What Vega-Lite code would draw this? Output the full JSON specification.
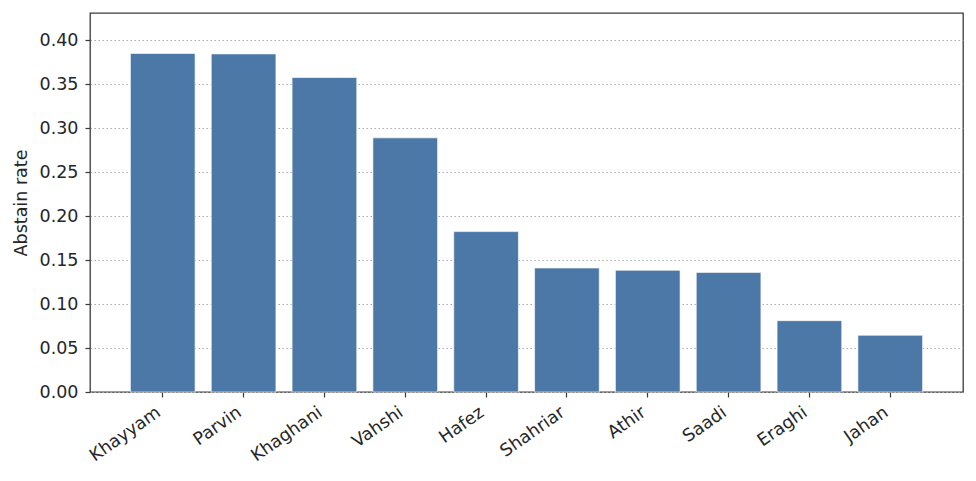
{
  "$schema": "https://vega.github.io/schema/vega-lite/v6.json",
  "autosize": "none",
  "width": 873,
  "height": 379,
  "padding": {"left": 90, "top": 13, "right": 13, "bottom": 89},
  "background": "white",
  "data": {
    "values": [
      {"poet": "Khayyam", "rate": 0.385},
      {"poet": "Parvin", "rate": 0.3845},
      {"poet": "Khaghani", "rate": 0.3576},
      {"poet": "Vahshi", "rate": 0.289},
      {"poet": "Hafez", "rate": 0.1824},
      {"poet": "Shahriar", "rate": 0.141},
      {"poet": "Athir", "rate": 0.1384},
      {"poet": "Saadi", "rate": 0.136},
      {"poet": "Eraghi", "rate": 0.0811},
      {"poet": "Jahan", "rate": 0.0645}
    ]
  },
  "mark": {"type": "bar", "color": "#4c78a8", "stroke": "white", "strokeOpacity": 0.6, "strokeWidth": 1},
  "encoding": {
    "x": {
      "field": "poet",
      "type": "nominal",
      "sort": null,
      "scale": {"paddingInner": 0.2, "paddingOuter": 0.5},
      "axis": {
        "title": null,
        "labelAngle": -35,
        "labelAlign": "right",
        "labelBaseline": "top",
        "labelFont": "DejaVu Sans",
        "labelFontSize": 17.5,
        "labelColor": "#262626",
        "labelPadding": 6,
        "labelOffset": -9,
        "tickSize": 5,
        "tickColor": "#3a3a3a",
        "tickWidth": 1.2,
        "domain": false,
        "grid": false
      }
    },
    "y": {
      "field": "rate",
      "type": "quantitative",
      "scale": {"domain": [0, 0.431], "nice": false, "zero": true},
      "axis": {
        "title": "Abstain rate",
        "titleFont": "DejaVu Sans",
        "titleFontSize": 17.5,
        "titleFontWeight": "normal",
        "titleColor": "#262626",
        "titlePadding": 9,
        "values": [0, 0.05, 0.1, 0.15, 0.2, 0.25, 0.3, 0.35, 0.4],
        "format": ".2f",
        "labelFont": "DejaVu Sans",
        "labelFontSize": 17.5,
        "labelColor": "#262626",
        "labelPadding": 7,
        "tickSize": 5,
        "tickColor": "#3a3a3a",
        "tickWidth": 1.2,
        "domain": false,
        "grid": true,
        "gridColor": "#aaaaaa",
        "gridDash": [1.5, 2.5],
        "gridWidth": 1
      }
    }
  },
  "config": {
    "view": {"stroke": "#3a3a3a", "strokeWidth": 1.3}
  }
}
